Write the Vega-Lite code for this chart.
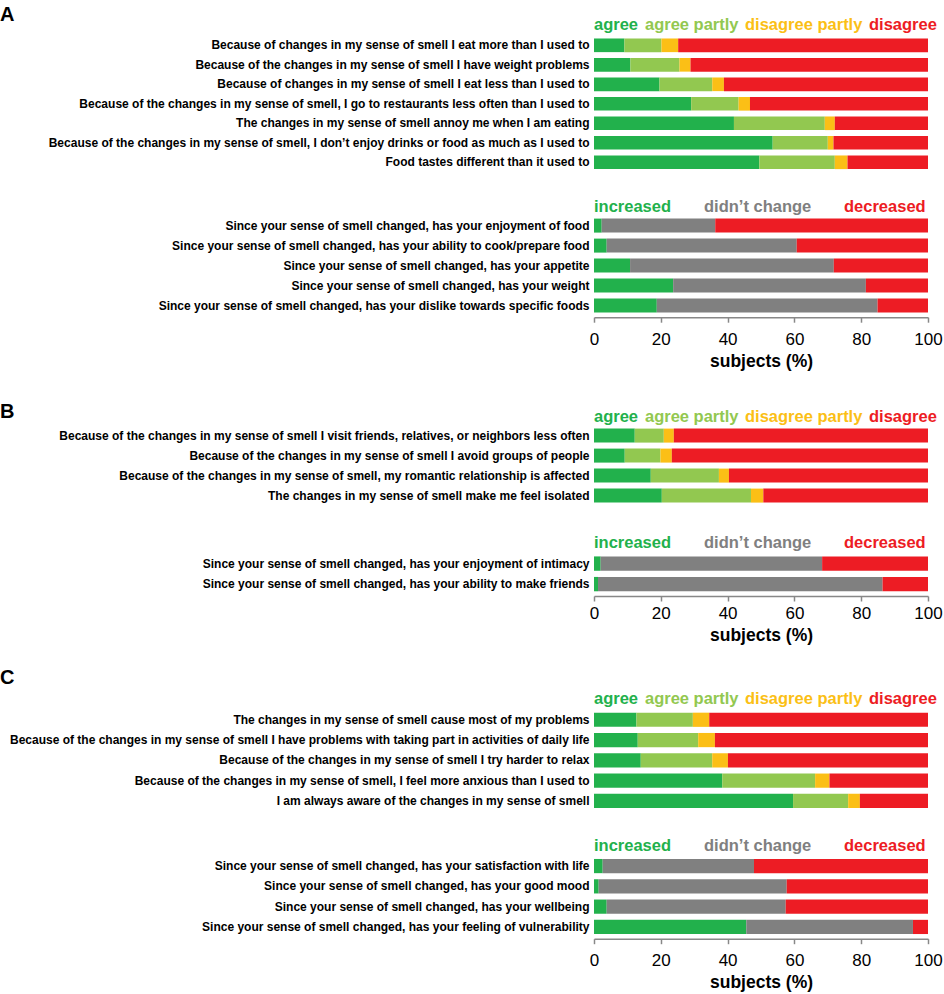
{
  "$schema": "https://vega.github.io/schema/vega-lite/v6.json",
  "padding": {"left": 0, "top": 5, "right": 5, "bottom": 5},
  "background": "white",
  "config": {
    "view": {"stroke": null},
    "font": "Liberation Sans",
    "title": {"anchor": "start", "frame": "bounds", "fontSize": 20, "font": "Liberation Sans", "fontWeight": "bold", "color": "#000000"},
    "bar": {"stroke": null},
    "axisY": {"title": null, "ticks": false, "domain": false, "labelFont": "Liberation Sans", "labelFontWeight": "bold", "labelFontSize": 12, "labelColor": "#000000", "labelPadding": 5, "labelLimit": 0, "minExtent": 594, "maxExtent": 594},
    "axisX": {"domainColor": "#888888", "domainWidth": 1.5, "tickColor": "#888888", "tickWidth": 1.5, "tickSize": 5, "grid": false, "labelFont": "Liberation Sans", "labelFontSize": 17, "labelColor": "#000000", "labelPadding": 9, "titleFont": "Liberation Sans", "titleFontSize": 17.5, "titleFontWeight": "bold", "titleColor": "#000000", "titlePadding": 5, "labelFlush": false},
    "legend": {"orient": "top", "direction": "horizontal", "title": null, "labelFont": "Liberation Sans", "labelFontSize": 16.5, "labelFontWeight": "bold", "symbolOpacity": 0, "symbolStrokeWidth": 0, "padding": 0, "offset": 0,
      "labelColor": {"expr": "datum.value == 'agree' || datum.value == 'increased' ? '#22b14c' : datum.value == 'agree partly' ? '#92c850' : datum.value == 'disagree partly' ? '#fbbf16' : datum.value == 'didn’t change' ? '#808080' : '#ed1c24'"}}
  },
  "datasets": {
    "cats": [
      {"response": "agree", "rank": 1},
      {"response": "agree partly", "rank": 2},
      {"response": "disagree partly", "rank": 3},
      {"response": "disagree", "rank": 4},
      {"response": "increased", "rank": 1},
      {"response": "didn’t change", "rank": 2},
      {"response": "decreased", "rank": 3}
    ],
    "aTop": [
      {"q": "Because of changes in my sense of smell I eat more than I used to", "agree": 9.1, "agree partly": 11.1, "disagree partly": 5.0, "disagree": 74.8},
      {"q": "Because of the changes in my sense of smell I have weight problems", "agree": 10.9, "agree partly": 14.7, "disagree partly": 3.3, "disagree": 71.1},
      {"q": "Because of changes in my sense of smell I eat less than I used to", "agree": 19.6, "agree partly": 15.8, "disagree partly": 3.5, "disagree": 61.1},
      {"q": "Because of the changes in my sense of smell, I go to restaurants less often than I used to", "agree": 29.1, "agree partly": 14.2, "disagree partly": 3.4, "disagree": 53.3},
      {"q": "The changes in my sense of smell annoy me when I am eating", "agree": 41.9, "agree partly": 27.2, "disagree partly": 3.0, "disagree": 27.9},
      {"q": "Because of the changes in my sense of smell, I don’t enjoy drinks or food as much as I used to", "agree": 53.5, "agree partly": 16.5, "disagree partly": 1.7, "disagree": 28.3},
      {"q": "Food tastes different than it used to", "agree": 49.5, "agree partly": 22.6, "disagree partly": 3.8, "disagree": 24.1}
    ],
    "aBot": [
      {"q": "Since your sense of smell changed, has your enjoyment of food", "increased": 2.3, "didn’t change": 34.0, "decreased": 63.7},
      {"q": "Since your sense of smell changed, has your ability to cook/prepare food", "increased": 3.8, "didn’t change": 56.9, "decreased": 39.3},
      {"q": "Since your sense of smell changed, has your appetite", "increased": 10.8, "didn’t change": 61.0, "decreased": 28.2},
      {"q": "Since your sense of smell changed, has your weight", "increased": 23.7, "didn’t change": 57.7, "decreased": 18.6},
      {"q": "Since your sense of smell changed, has your dislike towards specific foods", "increased": 18.8, "didn’t change": 66.1, "decreased": 15.1}
    ],
    "bTop": [
      {"q": "Because of the changes in my sense of smell I visit friends, relatives, or neighbors less often", "agree": 12.2, "agree partly": 8.7, "disagree partly": 3.0, "disagree": 76.1},
      {"q": "Because of the changes in my sense of smell I avoid groups of people", "agree": 9.2, "agree partly": 10.7, "disagree partly": 3.4, "disagree": 76.7},
      {"q": "Because of the changes in my sense of smell, my romantic relationship is affected", "agree": 17.0, "agree partly": 20.4, "disagree partly": 3.0, "disagree": 59.6},
      {"q": "The changes in my sense of smell make me feel isolated", "agree": 20.3, "agree partly": 26.7, "disagree partly": 3.7, "disagree": 49.3}
    ],
    "bBot": [
      {"q": "Since your sense of smell changed, has your enjoyment of intimacy", "increased": 2.0, "didn’t change": 66.3, "decreased": 31.7},
      {"q": "Since your sense of smell changed, has your ability to make friends", "increased": 1.2, "didn’t change": 85.2, "decreased": 13.6}
    ],
    "cTop": [
      {"q": "The changes in my sense of smell cause most of my problems", "agree": 12.7, "agree partly": 16.9, "disagree partly": 4.9, "disagree": 65.5},
      {"q": "Because of the changes in my sense of smell I have problems with taking part in activities of daily life", "agree": 13.1, "agree partly": 18.1, "disagree partly": 5.0, "disagree": 63.8},
      {"q": "Because of the changes in my sense of smell I try harder to relax", "agree": 14.0, "agree partly": 21.4, "disagree partly": 4.7, "disagree": 59.9},
      {"q": "Because of the changes in my sense of smell, I feel more anxious than I used to", "agree": 38.4, "agree partly": 27.8, "disagree partly": 4.3, "disagree": 29.5},
      {"q": "I am always aware of the changes in my sense of smell", "agree": 59.6, "agree partly": 16.5, "disagree partly": 3.5, "disagree": 20.4}
    ],
    "cBot": [
      {"q": "Since your sense of smell changed, has your satisfaction with life", "increased": 2.6, "didn’t change": 45.3, "decreased": 52.1},
      {"q": "Since your sense of smell changed, has your good mood", "increased": 1.4, "didn’t change": 56.3, "decreased": 42.3},
      {"q": "Since your sense of smell changed, has your wellbeing", "increased": 3.8, "didn’t change": 53.6, "decreased": 42.6},
      {"q": "Since your sense of smell changed, has your feeling of vulnerability", "increased": 45.6, "didn’t change": 49.9, "decreased": 4.5}
    ]
  },
  "spacing": 31,
  "resolve": {"scale": {"color": "independent", "y": "independent", "x": "independent"}},
  "vconcat": [
    {
      "title": {"text": "A", "offset": -8},
      "spacing": 40,
      "bounds": "flush",
      "resolve": {"scale": {"color": "independent", "y": "independent", "x": "independent"}},
      "vconcat": [
        {
          "width": 334, "height": 139.6,
          "data": {"name": "aTop"},
          "transform": [{"fold": ["agree", "agree partly", "disagree partly", "disagree"], "as": ["response", "pct"]}, {"lookup": "response", "from": {"data": {"name": "cats"}, "key": "response", "fields": ["rank"]}}],
          "mark": {"type": "bar"},
          "encoding": {
            "y": {"field": "q", "type": "nominal", "sort": null, "scale": {"paddingInner": 0.3, "paddingOuter": 0.23}},
            "x": {"field": "pct", "type": "quantitative", "stack": "zero", "scale": {"domain": [0, 100]}, "axis": null},
            "order": {"field": "rank", "type": "quantitative"},
            "color": {"field": "response", "type": "nominal", "scale": {"domain": ["agree", "agree partly", "disagree partly", "disagree"], "range": ["#22b14c", "#92c850", "#fbbf16", "#ed1c24"]}, "legend": {"columnPadding": 6, "symbolSize": 0.0001, "labelOffset": -16.5, "symbolType": "circle"}}
          }
        },
        {
          "width": 334, "height": 103.2,
          "data": {"name": "aBot"},
          "transform": [{"fold": ["increased", "didn’t change", "decreased"], "as": ["response", "pct"]}, {"lookup": "response", "from": {"data": {"name": "cats"}, "key": "response", "fields": ["rank"]}}],
          "mark": {"type": "bar"},
          "encoding": {
            "y": {"field": "q", "type": "nominal", "sort": null, "scale": {"paddingInner": 0.3, "paddingOuter": 0.23}},
            "x": {"field": "pct", "type": "quantitative", "stack": "zero", "scale": {"domain": [0, 100]}, "axis": {"values": [0, 20, 40, 60, 80, 100], "title": "subjects (%)"}},
            "order": {"field": "rank", "type": "quantitative"},
            "color": {"field": "response", "type": "nominal", "scale": {"domain": ["increased", "didn’t change", "decreased"], "range": ["#22b14c", "#808080", "#ed1c24"]}, "legend": {"columnPadding": 32, "symbolSize": 0.0001, "labelOffset": -16.5, "symbolType": "circle", "offset": -2}}
          }
        }
      ]
    },
    {
      "spacing": 24,
      "resolve": {"scale": {"color": "independent", "y": "independent", "x": "independent"}},
      "vconcat": [
        {
          "title": {"text": "B", "offset": -12.5},
          "spacing": 43.7,
          "bounds": "flush",
          "resolve": {"scale": {"color": "independent", "y": "independent", "x": "independent"}},
          "vconcat": [
            {
              "width": 334, "height": 83.2,
              "data": {"name": "bTop"},
              "transform": [{"fold": ["agree", "agree partly", "disagree partly", "disagree"], "as": ["response", "pct"]}, {"lookup": "response", "from": {"data": {"name": "cats"}, "key": "response", "fields": ["rank"]}}],
              "mark": {"type": "bar"},
              "encoding": {
                "y": {"field": "q", "type": "nominal", "sort": null, "scale": {"paddingInner": 0.3, "paddingOuter": 0.23}},
                "x": {"field": "pct", "type": "quantitative", "stack": "zero", "scale": {"domain": [0, 100]}, "axis": null},
                "order": {"field": "rank", "type": "quantitative"},
                "color": {"field": "response", "type": "nominal", "scale": {"domain": ["agree", "agree partly", "disagree partly", "disagree"], "range": ["#22b14c", "#92c850", "#fbbf16", "#ed1c24"]}, "legend": {"columnPadding": 6, "symbolSize": 0.0001, "labelOffset": -16.5, "symbolType": "circle", "offset": -2}}
              }
            },
            {
              "width": 334, "height": 44.3,
              "data": {"name": "bBot"},
              "transform": [{"fold": ["increased", "didn’t change", "decreased"], "as": ["response", "pct"]}, {"lookup": "response", "from": {"data": {"name": "cats"}, "key": "response", "fields": ["rank"]}}],
              "mark": {"type": "bar"},
              "encoding": {
                "y": {"field": "q", "type": "nominal", "sort": null, "scale": {"paddingInner": 0.3, "paddingOuter": 0.23}},
                "x": {"field": "pct", "type": "quantitative", "stack": "zero", "scale": {"domain": [0, 100]}, "axis": {"values": [0, 20, 40, 60, 80, 100], "title": "subjects (%)", "labelPadding": 4}},
                "order": {"field": "rank", "type": "quantitative"},
                "color": {"field": "response", "type": "nominal", "scale": {"domain": ["increased", "didn’t change", "decreased"], "range": ["#22b14c", "#808080", "#ed1c24"]}, "legend": {"columnPadding": 32, "symbolSize": 0.0001, "labelOffset": -16.5, "symbolType": "circle"}}
              }
            }
          ]
        },
        {
          "title": {"text": "C", "offset": 3},
          "spacing": 41.3,
          "bounds": "flush",
          "resolve": {"scale": {"color": "independent", "y": "independent", "x": "independent"}},
          "vconcat": [
            {
              "width": 334, "height": 104.7,
              "data": {"name": "cTop"},
              "transform": [{"fold": ["agree", "agree partly", "disagree partly", "disagree"], "as": ["response", "pct"]}, {"lookup": "response", "from": {"data": {"name": "cats"}, "key": "response", "fields": ["rank"]}}],
              "mark": {"type": "bar"},
              "encoding": {
                "y": {"field": "q", "type": "nominal", "sort": null, "scale": {"paddingInner": 0.3, "paddingOuter": 0.23}},
                "x": {"field": "pct", "type": "quantitative", "stack": "zero", "scale": {"domain": [0, 100]}, "axis": null},
                "order": {"field": "rank", "type": "quantitative"},
                "color": {"field": "response", "type": "nominal", "scale": {"domain": ["agree", "agree partly", "disagree partly", "disagree"], "range": ["#22b14c", "#92c850", "#fbbf16", "#ed1c24"]}, "legend": {"columnPadding": 6, "symbolSize": 0.0001, "labelOffset": -16.5, "symbolType": "circle"}}
              }
            },
            {
              "width": 334, "height": 84.4,
              "data": {"name": "cBot"},
              "transform": [{"fold": ["increased", "didn’t change", "decreased"], "as": ["response", "pct"]}, {"lookup": "response", "from": {"data": {"name": "cats"}, "key": "response", "fields": ["rank"]}}],
              "mark": {"type": "bar"},
              "encoding": {
                "y": {"field": "q", "type": "nominal", "sort": null, "scale": {"paddingInner": 0.3, "paddingOuter": 0.23}},
                "x": {"field": "pct", "type": "quantitative", "stack": "zero", "scale": {"domain": [0, 100]}, "axis": {"values": [0, 20, 40, 60, 80, 100], "title": "subjects (%)"}},
                "order": {"field": "rank", "type": "quantitative"},
                "color": {"field": "response", "type": "nominal", "scale": {"domain": ["increased", "didn’t change", "decreased"], "range": ["#22b14c", "#808080", "#ed1c24"]}, "legend": {"columnPadding": 32, "symbolSize": 0.0001, "labelOffset": -16.5, "symbolType": "circle"}}
              }
            }
          ]
        }
      ]
    }
  ]
}
